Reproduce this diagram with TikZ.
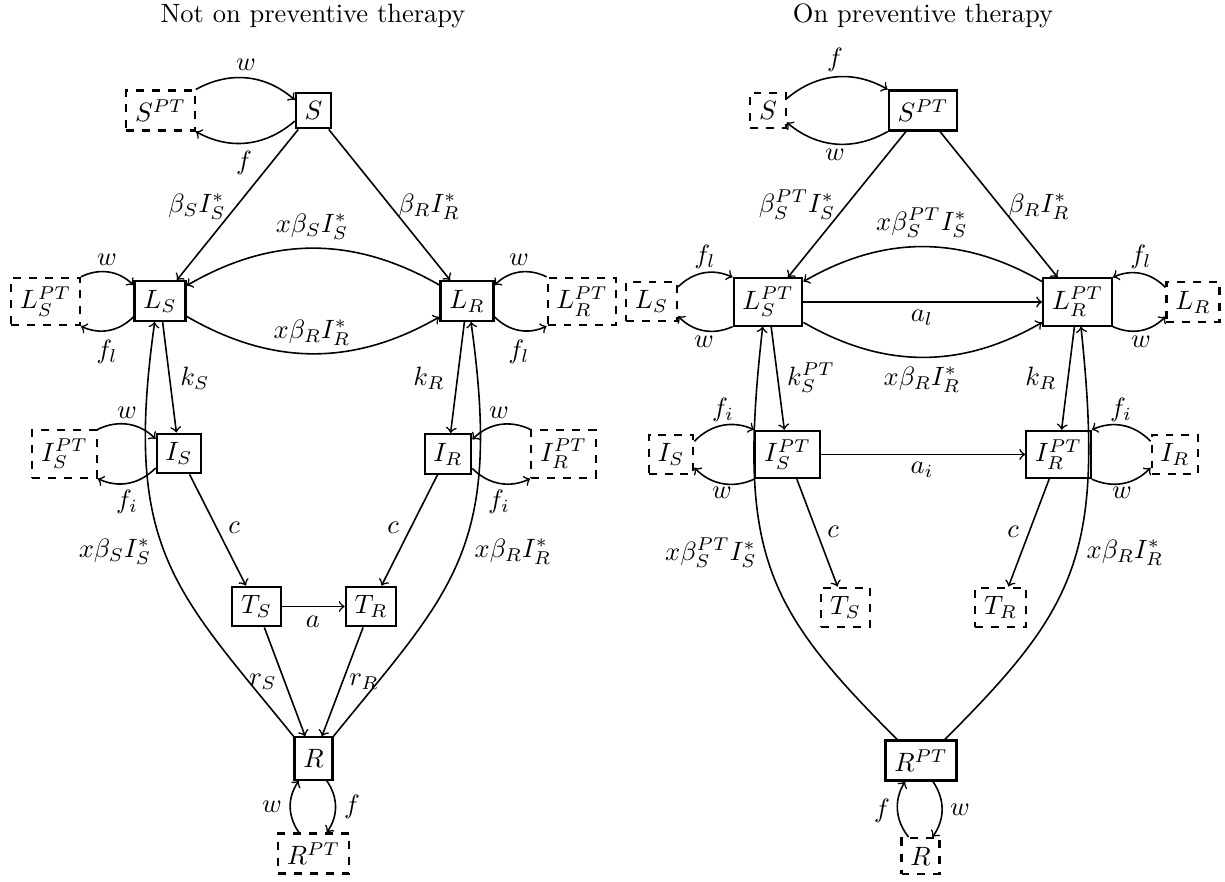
\documentclass[tikz,border=0pt]{standalone}
\begin{document}
\begin{tikzpicture}[x=0.37736pt,y=0.37736pt,
  box/.style={draw,thick,inner sep=3.33pt},
  pbox/.style={box,dashed},
  flow/.style={->,semithick},
  arc/.style={flow,out looseness=1.1,in looseness=1.35},
  lbl/.style={inner sep=0pt}
]
\newcommand{\lab}[3]{\node[lbl] (#1) at #2 {$#3$};}
\useasboundingbox (0,0) rectangle (1225,-882);

% ---------------- Not on preventive therapy ----------------
\node[anchor=base] (title1) at (313,-22.7) {Not on preventive therapy};
\node[pbox] (SPT)  at (160.5,-110.5) {$S^{PT}$};
\node[box]  (S)    at (313.5,-110.5) {$S$};
\node[pbox] (LSPT) at (45.5,-301.5)  {$L_S^{PT}$};
\node[box]  (LS)   at (160,-301)     {$L_S$};
\node[box]  (LR)   at (467,-301)     {$L_R$};
\node[pbox] (LRPT) at (582,-301.5)   {$L_R^{PT}$};
\node[pbox] (ISPT) at (64.5,-454)    {$I_S^{PT}$};
\node[box]  (IS)   at (179,-453.5)   {$I_S$};
\node[box]  (IR)   at (448,-454)     {$I_R$};
\node[pbox] (IRPT) at (563.5,-454)   {$I_R^{PT}$};
\node[box]  (TS)   at (256.5,-606.5) {$T_S$};
\node[box]  (TR)   at (371,-606.5)   {$T_R$};
\node[box,minimum height=16pt] (R) at (313.5,-758.5) {$R$};
\node[pbox] (RPT)  at (313.5,-853.5) {$R^{PT}$};

\draw[flow] (SPT.north east) to[bend left=35] ([yshift=4pt]S.west);
\draw[flow] ([yshift=-4pt]S.west) to[bend left=35] (SPT.south east);
\draw[flow] (S) -- (LS);
\draw[flow] (S) -- (LR);
\draw[flow] (LR) to[bend right=30] (LS);
\draw[flow] (LS) to[bend right=30] (LR);
\draw[flow] (LSPT.north east) to[bend left=35] ([yshift=6pt]LS.west);
\draw[flow] ([yshift=-6pt]LS.west) to[bend left=35] (LSPT.south east);
\draw[flow] (LRPT.north west) to[bend right=35] ([yshift=6pt]LR.east);
\draw[flow] ([yshift=-6pt]LR.east) to[bend right=35] (LRPT.south west);
\draw[flow] (LS) -- (IS);
\draw[flow] (LR) -- (IR);
\draw[flow] (ISPT.north east) to[bend left=35] ([yshift=5.5pt]IS.west);
\draw[flow] ([yshift=-5.5pt]IS.west) to[bend left=35] (ISPT.south east);
\draw[flow] (IRPT.north west) to[bend right=35] ([yshift=5.5pt]IR.east);
\draw[flow] ([yshift=-5.5pt]IR.east) to[bend right=35] (IRPT.south west);
\draw[flow] (IS) -- (TS);
\draw[flow] (IR) -- (TR);
\draw[flow] (TS) -- (TR);
\draw[flow] (TS) -- (R);
\draw[flow] (TR) -- (R);
\draw[arc] (R.north west) to[out=129,in=-98] ([xshift=-2pt]LS.south);
\draw[arc] (R.north east) to[out=51,in=-82] ([xshift=1.5pt]LR.south);
\draw[flow] ([xshift=-5.5pt]RPT.north) to[bend left=35] ([xshift=-5.5pt]R.south);
\draw[flow] ([xshift=5pt]R.south) to[bend left=35] ([xshift=5pt]RPT.north);

\lab{la1}{(246,-65)}{w}
\lab{la2}{(244,-163)}{f}
\lab{la3}{(197,-207)}{\beta_S I_S^*}
\lab{la4}{(429,-207)}{\beta_R I_R^*}
\lab{la5}{(312,-227)}{x\beta_S I_S^*}
\lab{la6}{(107,-260)}{w}
\lab{la7}{(519,-260)}{w}
\lab{la8}{(312,-333)}{x\beta_R I_R^*}
\lab{la9}{(107,-352)}{f_l}
\lab{la10}{(519,-352)}{f_l}
\lab{la11}{(195,-378)}{k_S}
\lab{la12}{(429,-378)}{k_R}
\lab{la13}{(127,-413)}{w}
\lab{la14}{(499,-413)}{w}
\lab{la15}{(127,-502)}{f_i}
\lab{la16}{(499,-502)}{f_i}
\lab{la17}{(234,-528)}{c}
\lab{la18}{(393,-528)}{c}
\lab{la19}{(115,-552)}{x\beta_S I_S^*}
\lab{la20}{(513,-552)}{x\beta_R I_R^*}
\lab{la21}{(313,-622)}{a}
\lab{la22}{(263,-682)}{r_S}
\lab{la23}{(364,-682)}{r_R}
\lab{la24}{(272,-807)}{w}
\lab{la25}{(352,-807)}{f}

% ---------------- On preventive therapy ----------------
\node[anchor=base] (title2) at (923,-22.7) {On preventive therapy};
\node[pbox] (Sd)    at (768,-110.5)   {$S$};
\node[box]  (SPT2)  at (923,-110.5)   {$S^{PT}$};
\node[pbox] (LSd)   at (651.5,-301.5) {$L_S$};
\node[box]  (LSPT2) at (768,-302)     {$L_S^{PT}$};
\node[box]  (LRPT2) at (1077.5,-302)  {$L_R^{PT}$};
\node[pbox] (LRd)   at (1193,-302)    {$L_R$};
\node[pbox] (ISd)   at (671,-454.5)   {$I_S$};
\node[box]  (ISPT2) at (787.5,-454.5) {$I_S^{PT}$};
\node[box]  (IRPT2) at (1058.5,-454.5){$I_R^{PT}$};
\node[pbox] (IRd)   at (1175,-454.5)  {$I_R$};
\node[pbox] (TSd)   at (845.5,-607.5) {$T_S$};
\node[pbox] (TRd)   at (1000.5,-607.5){$T_R$};
\node[box]  (RPT2)  at (921,-760.5)   {$R^{PT}$};
\node[pbox] (Rd)    at (920.5,-856)   {$R$};

\draw[flow] ([yshift=4.5pt]Sd.east) to[bend left=35] (SPT2.north west);
\draw[flow] (SPT2.south west) to[bend left=35] ([yshift=-4.5pt]Sd.east);
\draw[flow] (SPT2) -- (LSPT2);
\draw[flow] (SPT2) -- (LRPT2);
\draw[flow] (LRPT2) to[bend right=30] (LSPT2);
\draw[flow] (LSPT2) -- (LRPT2);
\draw[flow] (LSPT2) to[bend right=30] (LRPT2);
\draw[flow] ([yshift=5.5pt]LSd.east) to[bend left=35] (LSPT2.north west);
\draw[flow] (LSPT2.south west) to[bend left=35] ([yshift=-5.5pt]LSd.east);
\draw[flow] ([yshift=5.5pt]LRd.west) to[bend right=35] (LRPT2.north east);
\draw[flow] (LRPT2.south east) to[bend right=35] ([yshift=-5.5pt]LRd.west);
\draw[flow] (LSPT2) -- (ISPT2);
\draw[flow] (LRPT2) -- (IRPT2);
\draw[flow] ([yshift=5pt]ISd.east) to[bend left=35] (ISPT2.north west);
\draw[flow] (ISPT2.south west) to[bend left=35] ([yshift=-5pt]ISd.east);
\draw[flow] ([yshift=5pt]IRd.west) to[bend right=35] (IRPT2.north east);
\draw[flow] (IRPT2.south east) to[bend right=35] ([yshift=-5pt]IRd.west);
\draw[flow] (ISPT2) -- (IRPT2);
\draw[flow] (ISPT2) -- (TSd);
\draw[flow] (IRPT2) -- (TRd);
\draw[arc] ([xshift=-9pt]RPT2.north) to[out=135,in=-96.5] ([xshift=-2pt]LSPT2.south);
\draw[arc] ([xshift=9pt]RPT2.north) to[out=45,in=-84] ([xshift=1.3pt]LRPT2.south);
\draw[flow] ([xshift=-4.5pt]Rd.north) to[bend left=35] ([xshift=-6pt]RPT2.south);
\draw[flow] ([xshift=4.5pt]RPT2.south) to[bend left=35] ([xshift=4.5pt]Rd.north);

\lab{lb1}{(835,-60)}{f}
\lab{lb2}{(835,-155)}{w}
\lab{lb3}{(797,-205)}{\beta_S^{PT} I_S^*}
\lab{lb4}{(1039,-207)}{\beta_R I_R^*}
\lab{lb5}{(922,-223)}{x\beta_S^{PT} I_S^*}
\lab{lb6}{(705,-257)}{f_l}
\lab{lb7}{(1141,-257)}{f_l}
\lab{lb8}{(922,-318)}{a_l}
\lab{lb9}{(704,-342)}{w}
\lab{lb10}{(1141,-342)}{w}
\lab{lb11}{(811,-378)}{k_S^{PT}}
\lab{lb12}{(1041,-378)}{k_R}
\lab{lb13}{(922,-380)}{x\beta_R I_R^*}
\lab{lb14}{(723,-410)}{f_i}
\lab{lb15}{(1121,-410)}{f_i}
\lab{lb16}{(922,-470)}{a_i}
\lab{lb17}{(722,-493)}{w}
\lab{lb18}{(1122,-493)}{w}
\lab{lb19}{(833,-532)}{c}
\lab{lb20}{(1013,-532)}{c}
\lab{lb21}{(711,-553)}{x\beta_S^{PT} I_S^*}
\lab{lb22}{(1125,-553)}{x\beta_R I_R^*}
\lab{lb23}{(882,-811)}{f}
\lab{lb24}{(960,-810)}{w}
\end{tikzpicture}
\end{document}
